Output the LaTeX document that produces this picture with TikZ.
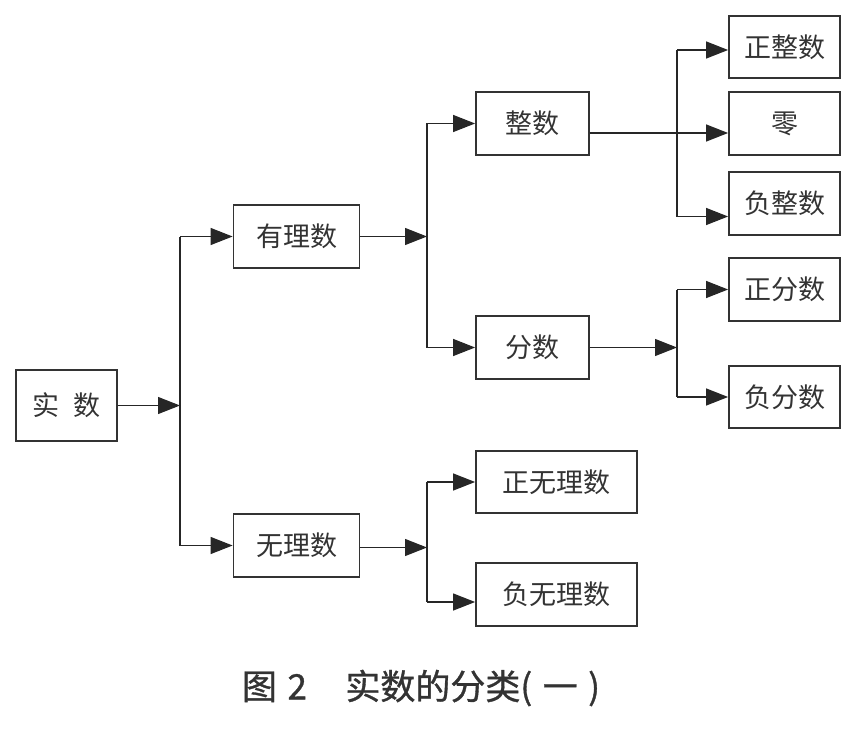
\documentclass[tikz,border=0pt]{standalone}
\usepackage{fontspec}
\setmainfont{Noto Sans CJK SC}
\usetikzlibrary{arrows.meta}

\begin{document}
\begin{tikzpicture}[x=1pt,y=-1pt]
    \tikzstyle{box}=[rectangle, draw=black!80, line width=1.8pt, text=black!80, inner sep=0pt, font=\fontsize{27}{30}\selectfont]
    \tikzstyle{connect}=[-{Triangle[length=22pt,width=17pt]}, line width=1.2pt, draw=black!85, fill=black!85]
    \tikzstyle{trunk}=[line width=1.2pt, draw=black!85]
    \useasboundingbox (0,0) rectangle (861,730);
      \node[box, minimum width=101pt, minimum height=71pt] (real) at (66.5,405.5) {实\hspace{0.55em}数};
      \node[box, minimum width=126pt, minimum height=63pt] (rational) at (296.5,236.5) {有理数};
      \node[box, minimum width=126pt, minimum height=63pt] (irrational) at (296.5,545.5) {无理数};
      \node[box, minimum width=113pt, minimum height=63pt] (integer) at (532.5,123.5) {整数};
      \node[box, minimum width=113pt, minimum height=63pt] (fraction) at (532.5,347.5) {分数};
      \node[box, minimum width=161pt, minimum height=62pt] (posirr) at (556.5,482) {正无理数};
      \node[box, minimum width=161pt, minimum height=63pt] (negirr) at (556.5,594.5) {负无理数};
      \node[box, minimum width=111pt, minimum height=62pt] (posint) at (784.5,47) {正整数};
      \node[box, minimum width=111pt, minimum height=63pt] (zero) at (784.5,123.5) {零};
      \node[box, minimum width=111pt, minimum height=63pt] (negint) at (784.5,203.5) {负整数};
      \node[box, minimum width=111pt, minimum height=63pt] (posfrac) at (784.5,289.5) {正分数};
      \node[box, minimum width=111pt, minimum height=62pt] (negfrac) at (784.5,397) {负分数};
      \coordinate (ja) at (180,0);
      \coordinate (jb) at (427,0);
      \coordinate (jc) at (677,0);
      % real numbers
      \draw[connect] (real.east) -- (real.east -| ja);
      \draw[trunk] (rational.west -| ja) -- (irrational.west -| ja);
      \draw[connect] (rational.west -| ja) -- (rational.west);
      \draw[connect] (irrational.west -| ja) -- (irrational.west);
      % rational
      \draw[connect] (rational.east) -- (rational.east -| jb);
      \draw[trunk] (integer.west -| jb) -- (fraction.west -| jb);
      \draw[connect] (integer.west -| jb) -- (integer.west);
      \draw[connect] (fraction.west -| jb) -- (fraction.west);
      % irrational
      \draw[connect] ([yshift=-2pt]irrational.east) -- ([yshift=-2pt]irrational.east -| jb);
      \draw[trunk] (posirr.west -| jb) -- ([yshift=-7.5pt]negirr.west -| jb);
      \draw[connect] (posirr.west -| jb) -- (posirr.west);
      \draw[connect] ([yshift=-7.5pt]negirr.west -| jb) -- ([yshift=-7.5pt]negirr.west);
      % integers
      \draw[trunk] ([yshift=-3pt]posint.west -| jc) -- ([yshift=-13pt]negint.west -| jc);
      \draw[connect] ([yshift=-3pt]posint.west -| jc) -- ([yshift=-3pt]posint.west);
      \draw[connect] ([yshift=-9.5pt]integer.east) -- ([yshift=-9.5pt]zero.west);
      \draw[connect] ([yshift=-13pt]negint.west -| jc) -- ([yshift=-13pt]negint.west);
      % fractions
      \draw[connect] (fraction.east) -- (fraction.east -| jc);
      \draw[trunk] (posfrac.west -| jc) -- (negfrac.west -| jc);
      \draw[connect] (posfrac.west -| jc) -- (posfrac.west);
      \draw[connect] (negfrac.west -| jc) -- (negfrac.west);
      \node[text=black!80, font=\fontsize{35}{38}\selectfont\addfontfeature{FakeBold=1}] (caption) at (421,688)
        {图\hspace{0.3em}2\hspace{1.1em}实数的分类(\hspace{0.3em}一\hspace{0.3em})};
\end{tikzpicture}
\end{document}
